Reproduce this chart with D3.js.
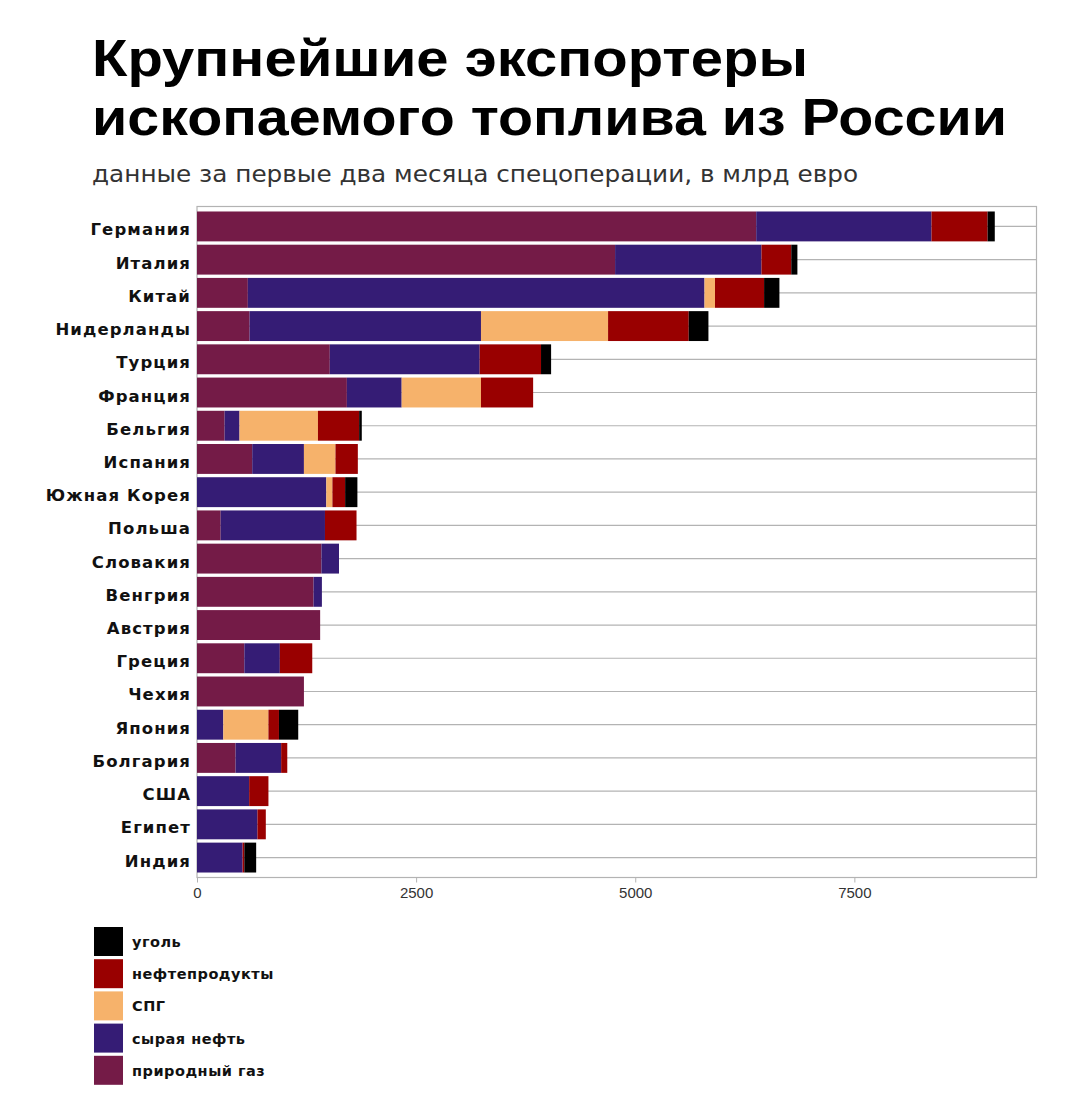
<!DOCTYPE html>
<html><head><meta charset="utf-8">
<script src="https://cdn.jsdelivr.net/npm/d3@7"></script>
<style>body{margin:0;background:#fff}</style>
</head><body><svg id="c" width="1080" height="1100"></svg>
<script>
const categories = ["Германия","Италия","Китай","Нидерланды","Турция","Франция","Бельгия","Испания","Южная Корея","Польша","Словакия","Венгрия","Австрия","Греция","Чехия","Япония","Болгария","США","Египет","Индия"];
const gas      = [6380,4770, 580, 600,1515,1710, 315, 630,   0, 270,1420,1330,1405, 540,1220,   0, 440,   0,   0,   0];
const crude    = [2000,1670,5210,2640,1710, 625, 170, 590,1475,1190, 200,  95,   0, 405,   0, 300, 520, 595, 690, 520];
const lng      = [   0,   0, 120,1450,   0, 905, 895, 360,  70,   0,   0,   0,   0,   0,   0, 515,   0,   0,   0,   0];
const products = [ 640, 340, 560, 920, 700, 595, 470, 255, 145, 360,   0,   0,   0, 370,   0, 120,  70, 220,  95,  20];
const coal     = [  82,  70, 175, 225, 115,   0,  30,   0, 140,   0,   0,   0,   0,   0,   0, 220,   0,   0,   0, 135];
const seriesKeys   = ["gas","crude","lng","products","coal"];
const seriesNames  = {gas:"природный газ",crude:"сырая нефть",lng:"СПГ",products:"нефтепродукты",coal:"уголь"};
const seriesColors = {gas:"#741b47",crude:"#351c75",lng:"#f6b26b",products:"#990000",coal:"#000000"};
const xTicks = [0,2500,5000,7500];
const xMax = 9578;
const title1 = "Крупнейшие экспортеры";
const title2 = "ископаемого топлива из России";
const subtitle = "данные за первые два месяца спецоперации, в млрд евро";

const svg = d3.select("#c");
const rows = categories.map((c,i)=>({country:c,gas:gas[i],crude:crude[i],lng:lng[i],products:products[i],coal:coal[i]}));

// title
svg.append("text").attr("x",92).attr("y",76).text(title1)
  .attr("font-family","Liberation Sans").attr("font-weight",700).attr("font-size",52)
  .attr("textLength",716).attr("lengthAdjust","spacingAndGlyphs").attr("fill","#000");
svg.append("text").attr("x",92).attr("y",135).text(title2)
  .attr("font-family","Liberation Sans").attr("font-weight",700).attr("font-size",52)
  .attr("textLength",915).attr("lengthAdjust","spacingAndGlyphs").attr("fill","#000");
svg.append("text").attr("x",92).attr("y",182).text(subtitle)
  .attr("font-family","DejaVu Sans").attr("font-size",23)
  .attr("textLength",766).attr("lengthAdjust","spacingAndGlyphs").attr("fill","#333");

const L=197, R=1036.5, T=206.5, B=877.5;
const x = d3.scaleLinear().domain([0,xMax]).range([L,R]);
const y = d3.scalePoint().domain(categories).range([T,B]).padding(0.6);
const bh = y.step()*0.9;

// panel border
svg.append("rect").attr("x",L).attr("y",T).attr("width",R-L).attr("height",B-T)
  .attr("fill","none").attr("stroke","#b3b3b3").attr("stroke-width",1.2);
// gridlines
svg.append("g").selectAll("line").data(categories).join("line")
  .attr("x1",L).attr("x2",R).attr("y1",d=>y(d)).attr("y2",d=>y(d))
  .attr("stroke","#b3b3b3").attr("stroke-width",1.2);

const stack = d3.stack().keys(seriesKeys)(rows);
svg.append("g").selectAll("g").data(stack).join("g")
  .attr("fill",d=>seriesColors[d.key])
  .selectAll("rect").data(d=>d).join("rect")
  .attr("x",d=>x(d[0])).attr("width",d=>Math.max(0,x(d[1])-x(d[0])))
  .attr("y",d=>y(d.data.country)-bh/2).attr("height",bh);

// category labels
svg.append("g").selectAll("text").data(categories).join("text")
  .attr("x",191).attr("y",d=>y(d)+9).attr("text-anchor","end")
  .attr("font-family","DejaVu Sans").attr("font-weight",700).attr("font-size",16.5)
  .attr("letter-spacing",1.1).attr("fill","#111").text(d=>d);

// x axis
const xa = svg.append("g").attr("transform",`translate(0,${B})`)
  .call(d3.axisBottom(x).tickValues(xTicks).tickSize(5).tickSizeOuter(0).tickFormat(d3.format("d")));
xa.select(".domain").remove();
xa.selectAll("line").attr("stroke","#b3b3b3");
xa.selectAll("text").attr("font-family","Liberation Sans").attr("font-size",15).attr("fill","#333").attr("dy","0.85em");

// legend
const legendOrder = ["coal","products","lng","crude","gas"];
const lg = svg.append("g").selectAll("g").data(legendOrder).join("g")
  .attr("transform",(d,i)=>`translate(94,${927+i*32.2})`);
lg.append("rect").attr("width",29).attr("height",29).attr("fill",d=>seriesColors[d]);
lg.append("text").attr("x",38).attr("y",20).text(d=>seriesNames[d])
  .attr("font-family","DejaVu Sans").attr("font-weight",700).attr("font-size",14.5)
  .attr("letter-spacing",0.5).attr("fill","#111");
</script></body></html>
